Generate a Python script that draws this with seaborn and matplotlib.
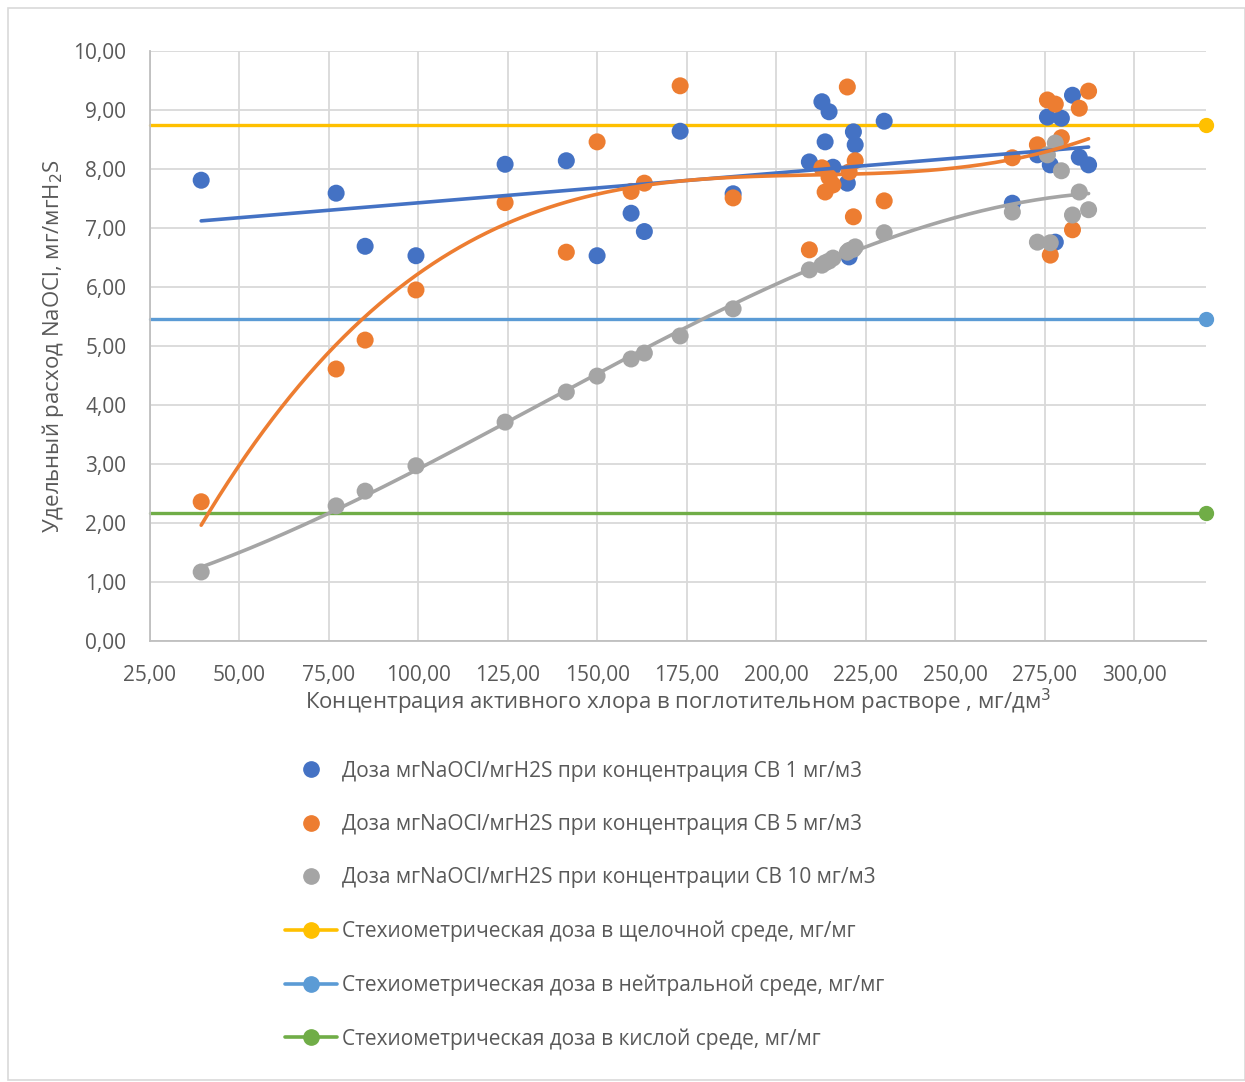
import numpy as np
import pandas as pd
import matplotlib
matplotlib.use("Agg")
import matplotlib.pyplot as plt
import seaborn as sns
from matplotlib.lines import Line2D
from matplotlib.patches import Rectangle

# concentration of active chlorine, mg/dm3 (same for all three series)
conc = [39.3, 77.0, 85.1, 99.3, 124.2, 141.3, 149.9, 159.4, 163.1, 173.1, 187.9,
        209.2, 212.7, 213.6, 214.7, 215.8, 219.8, 220.3, 221.5, 222.0, 230.1,
        265.9, 272.9, 275.7, 276.5, 277.9, 279.6, 282.7, 284.6, 287.2]

dose_1 = [7.81, 7.59, 6.69, 6.53, 8.08, 8.14, 6.53, 7.25, 6.94, 8.64, 7.58,
          8.12, 9.14, 8.46, 8.97, 8.03, 7.76, 6.51, 8.63, 8.41, 8.81,
          7.42, 8.24, 8.88, 8.07, 6.76, 8.86, 9.25, 8.20, 8.07]
dose_5 = [2.36, 4.61, 5.10, 5.95, 7.43, 6.59, 8.46, 7.62, 7.76, 9.41, 7.51,
          6.63, 8.02, 7.61, 7.86, 7.73, 9.39, 7.95, 7.19, 8.14, 7.46,
          8.19, 8.41, 9.17, 6.54, 9.10, 8.53, 6.97, 9.03, 9.32]
dose_10 = [1.17, 2.29, 2.54, 2.97, 3.71, 4.22, 4.49, 4.78, 4.88, 5.17, 5.63,
           6.29, 6.37, 6.41, 6.44, 6.49, 6.59, 6.62, 6.64, 6.68, 6.92,
           7.27, 6.76, 8.24, 6.75, 8.44, 7.97, 7.22, 7.61, 7.31]

stoich_names = ["Стехиометрическая доза в щелочной среде, мг/мг",
                "Стехиометрическая доза в нейтральной среде, мг/мг",
                "Стехиометрическая доза в кислой среде, мг/мг"]
stoich_values = [8.75, 5.46, 2.17]
stoich_x = [25, 320]

series_names = ["Доза мгNaOCl/мгH2S при концентрация СВ 1 мг/м3",
                "Доза мгNaOCl/мгH2S при концентрация СВ 5 мг/м3",
                "Доза мгNaOCl/мгH2S при концентрации СВ 10 мг/м3"]
trend_degree = [1, 3, 3]

x_ticks = np.arange(25, 301, 25)
y_ticks = np.arange(0, 11, 1)

series_colors = ["#4472C4", "#ED7D31", "#A5A5A5"]
stoich_colors = ["#FFC000", "#5B9BD5", "#70AD47"]

sns.set_style("white")
plt.rcParams["font.family"] = ["Open Sans", "DejaVu Sans"]

df = pd.DataFrame({"conc": conc, series_names[0]: dose_1,
                   series_names[1]: dose_5, series_names[2]: dose_10})

fig = plt.figure(figsize=(12.45, 10.82), dpi=100)
ax = fig.add_axes([150/1245, 1-641/1082, 1056/1245, 590/1082])

# horizontal stoichiometric lines first (behind points)
for v, c in zip(stoich_values, stoich_colors):
    ax.plot(stoich_x, [v, v], color=c, lw=2.4, marker="o", markersize=10,
            markevery=[1], clip_on=False, zorder=2)

for name, c in zip(series_names, series_colors):
    sns.scatterplot(data=df, x="conc", y=name, color=c, s=150,
                    edgecolor="none", ax=ax, zorder=3, legend=False)

# trend lines
xs = np.linspace(min(conc), max(conc), 200)
for name, c, deg in zip(series_names, series_colors, trend_degree):
    coef = np.polyfit(df["conc"], df[name], deg)
    sns.lineplot(x=xs, y=np.polyval(coef, xs), color=c, lw=2.6, ax=ax,
                 zorder=4, sort=False, estimator=None)

ax.set_xlim(25, 320)
ax.set_ylim(0, 10)
ax.set_xticks(x_ticks)
ax.set_yticks(y_ticks)
fmt = lambda v: f"{v:.2f}".replace(".", ",")
ax.set_xticklabels([fmt(v) for v in x_ticks])
ax.set_yticklabels([fmt(v) for v in y_ticks])
ax.tick_params(colors="#595959", labelsize=15, length=0)
ax.tick_params(axis="x", pad=17)
ax.tick_params(axis="y", pad=17)
ax.grid(True, color="#D9D9D9", lw=1.3)
ax.set_axisbelow(True)
for s in ["top", "right"]:
    ax.spines[s].set_visible(False)
for s in ["left", "bottom"]:
    ax.spines[s].set_color("#BFBFBF")
    ax.spines[s].set_linewidth(1.3)

ax.set_xlabel("Концентрация активного хлора в поглотительном растворе , мг/дм$^3$",
              fontsize=16, color="#595959", labelpad=1)
ax.set_ylabel("Удельный расход NaOCl, мг/мгH$_2$S", fontsize=16,
              color="#595959", labelpad=5)

handles = []
for name, c in zip(series_names, series_colors):
    handles.append(Line2D([], [], ls="none", marker="o", markersize=11,
                          color=c, label=name))
for name, c in zip(stoich_names, stoich_colors):
    handles.append(Line2D([], [], lw=2.6, marker="o", markersize=11,
                          color=c, label=name))
leg = fig.legend(handles=handles, loc="upper left",
                 bbox_to_anchor=(266/1245, 1-742/1082), frameon=False,
                 fontsize=15, labelspacing=1.55, handlelength=2.5,
                 handletextpad=0.25)
for t in leg.get_texts():
    t.set_color("#595959")

fig.patches.append(Rectangle((8/1245, 2/1082), 1237/1245, 1072/1082,
                             transform=fig.transFigure, fill=False,
                             edgecolor="#D9D9D9", lw=1.2))

fig.savefig("out.png", dpi=100, facecolor="white")
